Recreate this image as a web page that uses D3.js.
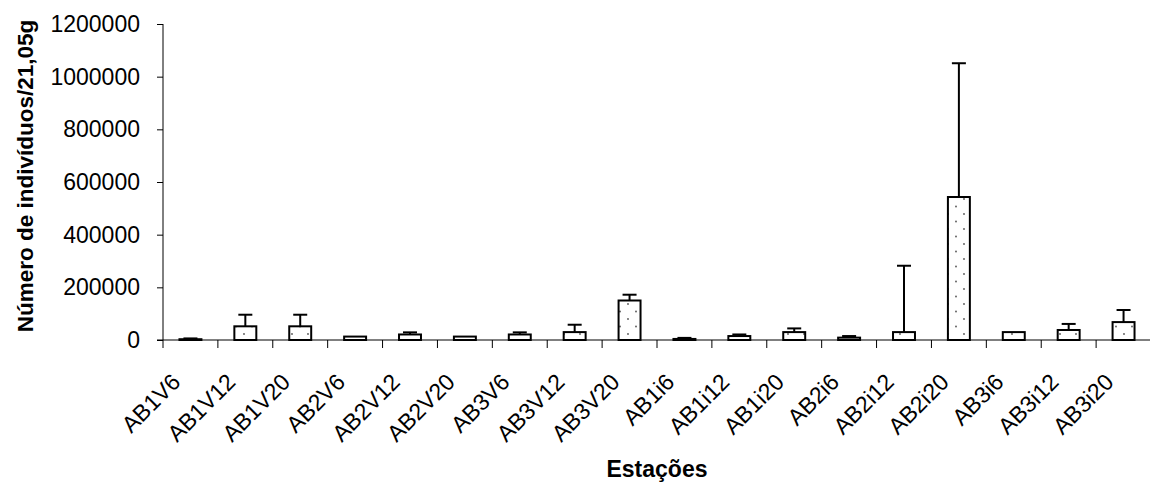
<!DOCTYPE html>
<html>
<head>
<meta charset="utf-8">
<script src="https://cdn.jsdelivr.net/npm/d3@7"></script>
<style>
  body { margin: 0; background: #fff; overflow: hidden; }
  svg { font-family: Arial, "Liberation Sans", sans-serif; }
</style>
</head>
<body>
<div id="chart"></div>
<script>
// chart size
const width = 1150;
const height = 483;
const margin = {left: 163, right: -1, top: 24, bottom: 143};

// data
const stations = ["AB1V6", "AB1V12", "AB1V20", "AB2V6", "AB2V12", "AB2V20",
                  "AB3V6", "AB3V12", "AB3V20", "AB1i6", "AB1i12", "AB1i20",
                  "AB2i6", "AB2i12", "AB2i20", "AB3i6", "AB3i12", "AB3i20"];
const means  = [3000, 52000, 52000, 13000, 21000, 13000, 21000, 30000, 150000,
                4000, 15000, 30000, 9000, 30000, 543000, 30000, 38000, 68000];
const errors = [3000, 44000, 44000, 0, 8000, 0, 8000, 28000, 22000,
                4000, 6000, 14000, 6000, 252000, 508000, 0, 23000, 46000];
const yTicks = [0, 200000, 400000, 600000, 800000, 1000000, 1200000];

const svg = d3.select("#chart")
  .append("svg")
  .attr("width", width)
  .attr("height", height);

// dotted fill used in every bar
const pat = svg.append("defs").append("pattern")
  .attr("id", "dots")
  .attr("patternUnits", "userSpaceOnUse")
  .attr("width", 16)
  .attr("height", 15);
pat.append("rect").attr("width", 16).attr("height", 15).attr("fill", "#fff");
pat.append("circle").attr("cx", 4).attr("cy", 4).attr("r", 0.9).attr("fill", "#555");
pat.append("circle").attr("cx", 12).attr("cy", 11.5).attr("r", 0.9).attr("fill", "#555");

/* Scales */
let yScale = d3.scaleLinear()
  .domain([0, 1200000])
  .range([height - margin.bottom, margin.top]);

// slots for ticks and labels
let xOuter = d3.scaleBand()
  .domain(stations)
  .range([margin.left, width - margin.right])
  .padding(0);

// narrower band for the bars themselves
let xBar = d3.scaleBand()
  .domain(stations)
  .range([margin.left, width - margin.right])
  .paddingInner(0.6)
  .paddingOuter(0.3);

const y0 = height - margin.bottom;

/* Y axis */
const yAxis = svg.append("g")
  .attr("transform", `translate(${margin.left},0)`)
  .call(d3.axisLeft(yScale).tickValues(yTicks).tickSize(6).tickSizeOuter(0).tickPadding(17).tickFormat(d3.format("d")));
yAxis.select(".domain").remove();
yAxis.selectAll(".tick line").attr("stroke", "#000");
yAxis.selectAll("text")
  .attr("font-size", "23px")
  .attr("font-family", "Arial, 'Liberation Sans', sans-serif")
  .attr("fill", "#000");
// y axis line runs a bit below the zero line
svg.append("line")
  .attr("x1", margin.left).attr("x2", margin.left)
  .attr("y1", margin.top).attr("y2", y0 + 8)
  .attr("stroke", "#000");

/* X axis */
svg.append("line")
  .attr("x1", margin.left - 6).attr("x2", width)
  .attr("y1", y0).attr("y2", y0)
  .attr("stroke", "#000");

const bounds = stations.slice(1).map(d => xOuter(d));
svg.selectAll(".xtick")
  .data(bounds)
  .enter()
  .append("line")
    .attr("class", "xtick")
    .attr("x1", d => d).attr("x2", d => d)
    .attr("y1", y0).attr("y2", y0 + 8)
    .attr("stroke", "#000");

svg.selectAll(".xlabel")
  .data(stations)
  .enter()
  .append("text")
    .attr("class", "xlabel")
    .attr("transform", d => `translate(${xOuter(d) + xOuter.bandwidth() / 2 - 20},${y0 + 32}) rotate(-45)`)
    .attr("text-anchor", "end")
    .attr("dy", "0.7em")
    .attr("font-size", "23px")
    .text(d => d);

/* Bars */
svg.selectAll(".bar")
  .data(stations)
  .enter()
  .append("rect")
    .attr("class", "bar")
    .attr("x", d => xBar(d))
    .attr("y", (d, i) => yScale(means[i]))
    .attr("width", xBar.bandwidth())
    .attr("height", (d, i) => y0 - yScale(means[i]))
    .attr("fill", "url(#dots)")
    .attr("stroke", "#000")
    .attr("stroke-width", 2);

/* Error bars (upper only) */
const eb = svg.selectAll(".err")
  .data(stations.filter((d, i) => errors[i] > 0))
  .enter()
  .append("g")
    .attr("class", "err");
eb.append("line")
  .attr("x1", d => xBar(d) + xBar.bandwidth() / 2)
  .attr("x2", d => xBar(d) + xBar.bandwidth() / 2)
  .attr("y1", d => yScale(means[stations.indexOf(d)]))
  .attr("y2", d => { const i = stations.indexOf(d); return yScale(means[i] + errors[i]); })
  .attr("stroke", "#000")
  .attr("stroke-width", 2);
eb.append("line")
  .attr("x1", d => xBar(d) + xBar.bandwidth() / 2 - 7)
  .attr("x2", d => xBar(d) + xBar.bandwidth() / 2 + 7)
  .attr("y1", d => { const i = stations.indexOf(d); return yScale(means[i] + errors[i]); })
  .attr("y2", d => { const i = stations.indexOf(d); return yScale(means[i] + errors[i]); })
  .attr("stroke", "#000")
  .attr("stroke-width", 2);

/* Axis titles */
svg.append("text")
  .attr("transform", `translate(33,176) rotate(-90)`)
  .attr("text-anchor", "middle")
  .attr("font-size", "22.5px")
  .attr("font-weight", "bold")
  .text("Número de indivíduos/21,05g");

svg.append("text")
  .attr("x", 657)
  .attr("y", 477)
  .attr("text-anchor", "middle")
  .attr("font-size", "23px")
  .attr("font-weight", "bold")
  .text("Estações");
</script>
</body>
</html>
